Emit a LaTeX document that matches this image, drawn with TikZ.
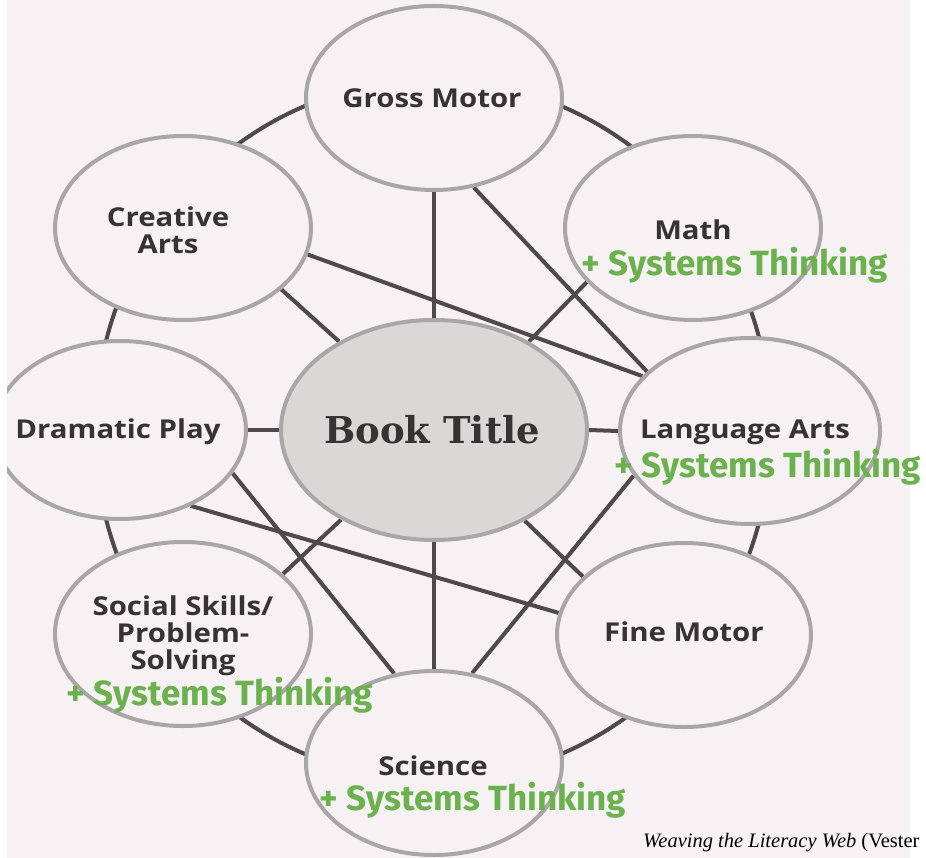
\documentclass[tikz,border=0pt]{standalone}
\usepackage{fontspec}
\setmainfont{Fira Sans}
\newfontfamily\lblfont[FakeStretch=1.13]{Open Sans}
\newfontfamily\titlefont{DejaVu Serif}
\newfontfamily\capfont{Liberation Serif}
\usetikzlibrary{shapes.geometric}
\definecolor{paper}{HTML}{F6F2F3}
\definecolor{rim}{HTML}{A9A6A7}
\definecolor{web}{HTML}{4E4A4C}
\definecolor{sysgreen}{HTML}{6BB14D}
\definecolor{ink}{HTML}{363334}
\definecolor{core}{HTML}{D9D8D6}
\pgfdeclarelayer{bgfill}
\pgfdeclarelayer{back}
\pgfsetlayers{bgfill,back,main}
\begin{document}
\begin{tikzpicture}[x=1pt,y=-1pt,
  topic/.style={ellipse, draw=rim, line width=4pt, fill=paper, inner sep=0pt, minimum width=256pt, minimum height=184pt},
  lbl/.style={text=ink, font=\lblfont\bfseries\fontsize{26}{27}\selectfont, align=center, inner sep=0pt},
  sys/.style={text=sysgreen, font=\bfseries\fontsize{35}{38}\selectfont, inner sep=0pt},
  link/.style={draw=web, line width=4pt}]
\useasboundingbox (0,0) rectangle (926,858);
\begin{pgfonlayer}{bgfill}
\fill[white] (0,0) rectangle (926,858);
\fill[paper] (7,0) rectangle (910,858);
\end{pgfonlayer}
\coordinate (ctr) at (433,430);
\begin{scope}
\clip (7,0) rectangle (926,858);
\node[topic] (gm) at (434,98) {};
\node[topic] (ca) at (183,228) {};
\node[topic] (ma) at (693,228) {};
\node[topic, minimum width=252pt, minimum height=178pt] (dp) at (120,430) {};
\node[topic, fill=core, minimum width=306pt, minimum height=220pt] (bt) at (434,430) {};
\node[topic, minimum width=260pt, minimum height=186pt] (la) at (750,431) {};
\node[topic] (ss) at (183,634) {};
\node[topic, minimum width=254pt] (fm) at (684,635) {};
\node[topic] (sc) at (434,763) {};
\end{scope}
\begin{pgfonlayer}{back}
\draw[link] (ctr) ellipse [x radius=338pt, y radius=350pt];
\draw[link] (gm.south) -- (bt.north);
\draw[link] (bt.south) -- (sc.north);
\draw[link] (dp.east) -- (bt.west);
\draw[link] (bt.east) -- (la.west);
\draw[link] (bt.137) -- (ca.-32);
\draw[link] (bt.43) -- (ma.207);
\draw[link] (bt.224) -- (ss.31);
\draw[link] (bt.-45) -- (fm.150);
\draw[link] (gm.-66) -- (la.150);
\draw[link] (ca.-12) -- (la.153);
\draw[link] (dp.-21) -- (sc.114);
\draw[link] (dp.-47) -- (fm.170);
\draw[link] (la.201) -- (sc.67);
\end{pgfonlayer}
\node[lbl] (gmT) at (432,98) {Gross Motor};
\node[lbl] (caT) at (168,230) {Creative\\Arts};
\node[lbl] (maT) at (693,230) {Math};
\node[lbl] (dpT) at (118,432) {Dramatic Play};
\node[text=ink, inner sep=0pt, font=\titlefont\bfseries\fontsize{37}{40}\selectfont] (btT) at (432,430) {Book Title};
\node[lbl] (laT) at (745,432) {Language Arts};
\node[lbl] (ssT) at (183,636) {Social Skills/\\Problem-\\Solving};
\node[lbl] (fmT) at (684,632) {Fine Motor};
\node[lbl] (scT) at (433,766) {Science};
\node[sys] (maS) at (735,265) {+ Systems Thinking};
\node[sys] (laS) at (768,467) {+ Systems Thinking};
\node[sys] (ssS) at (220,695) {+ Systems Thinking};
\node[sys] (scS) at (473,800) {+ Systems Thinking};
\node[anchor=base west, inner sep=0pt, text=black, font=\capfont\fontsize{20.5}{22}\selectfont] (cap) at (643,847) {\textit{Weaving the Literacy Web} (Vester};
\end{tikzpicture}
\end{document}
